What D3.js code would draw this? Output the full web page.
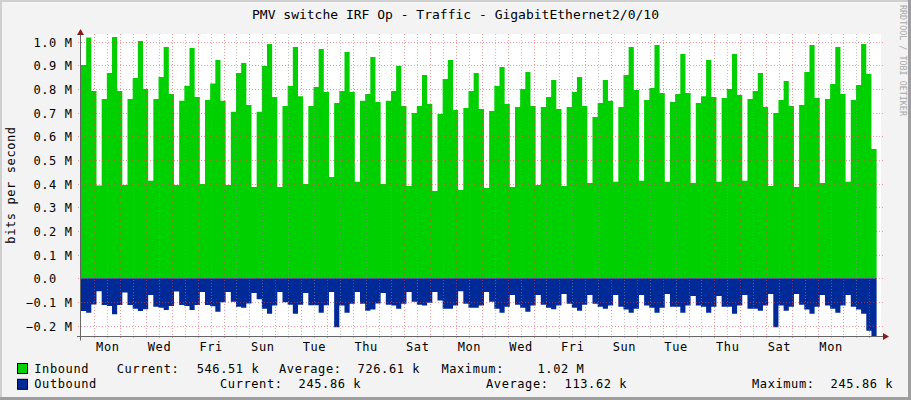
<!DOCTYPE html>
<html>
<head>
<meta charset="utf-8">
<script src="https://cdn.jsdelivr.net/npm/d3@7"></script>
<style>
body { margin: 0; background: #f3f3f3; }
svg text { font-family: "DejaVu Sans Mono", monospace; white-space: pre; }
</style>
</head>
<body>
<svg></svg>
<script>
// inbound / outbound traffic, Mbit/s, one sample every 4.8 h (5 per day)
var inbound = [
  0.902, 1.018, 0.792, 0.392, 0.758,  0.868, 1.020, 0.792, 0.395, 0.758,
  0.847, 1.003, 0.800, 0.412, 0.758,  0.851, 0.978, 0.779, 0.395, 0.750,
  0.813, 0.973, 0.766, 0.399, 0.754,  0.823, 0.923, 0.750, 0.395, 0.704,
  0.868, 0.910, 0.733, 0.386, 0.704,  0.897, 0.990, 0.766, 0.386, 0.728,
  0.813, 0.978, 0.770, 0.399, 0.728,  0.809, 0.969, 0.787, 0.428, 0.741,
  0.792, 0.957, 0.787, 0.408, 0.750,  0.779, 0.935, 0.745, 0.399, 0.750,
  0.792, 0.897, 0.728, 0.390, 0.699,  0.728, 0.859, 0.737, 0.369, 0.694,
  0.842, 0.923, 0.711, 0.373, 0.720,  0.792, 0.868, 0.716, 0.382, 0.707,
  0.813, 0.893, 0.737, 0.386, 0.724,  0.800, 0.872, 0.728, 0.395, 0.724,
  0.766, 0.838, 0.716, 0.390, 0.724,  0.787, 0.851, 0.728, 0.403, 0.682,
  0.741, 0.838, 0.750, 0.408, 0.724,  0.859, 0.978, 0.796, 0.412, 0.754,
  0.804, 0.986, 0.783, 0.408, 0.745,  0.779, 0.948, 0.783, 0.403, 0.741,
  0.770, 0.923, 0.766, 0.408, 0.762,  0.800, 0.948, 0.775, 0.412, 0.758,
  0.792, 0.868, 0.724, 0.390, 0.699,  0.754, 0.834, 0.728, 0.386, 0.733,
  0.872, 0.986, 0.762, 0.403, 0.758,  0.821, 0.978, 0.779, 0.408, 0.754,
  0.817, 0.990, 0.863, 0.547
];
var outbound = [
  0.138, 0.145, 0.110, 0.054, 0.113,  0.117, 0.152, 0.113, 0.060, 0.113,
  0.128, 0.138, 0.130, 0.070, 0.120,  0.124, 0.134, 0.117, 0.056, 0.113,
  0.117, 0.134, 0.113, 0.058, 0.113,  0.118, 0.141, 0.101, 0.058, 0.099,
  0.120, 0.124, 0.106, 0.062, 0.088,  0.128, 0.149, 0.115, 0.058, 0.101,
  0.111, 0.149, 0.111, 0.062, 0.114,  0.114, 0.145, 0.114, 0.058, 0.207,
  0.115, 0.145, 0.107, 0.058, 0.107,  0.137, 0.132, 0.106, 0.062, 0.111,
  0.115, 0.128, 0.107, 0.058, 0.099,  0.111, 0.115, 0.103, 0.058, 0.094,
  0.128, 0.128, 0.115, 0.054, 0.107,  0.124, 0.124, 0.115, 0.058, 0.099,
  0.128, 0.145, 0.120, 0.070, 0.111,  0.124, 0.141, 0.115, 0.070, 0.111,
  0.124, 0.130, 0.115, 0.066, 0.107,  0.124, 0.137, 0.111, 0.070, 0.107,
  0.120, 0.128, 0.115, 0.070, 0.120,  0.132, 0.145, 0.128, 0.070, 0.115,
  0.124, 0.145, 0.124, 0.066, 0.120,  0.120, 0.145, 0.115, 0.075, 0.115,
  0.120, 0.145, 0.120, 0.075, 0.120,  0.120, 0.149, 0.115, 0.070, 0.128,
  0.128, 0.137, 0.115, 0.066, 0.207,  0.115, 0.137, 0.120, 0.066, 0.111,
  0.132, 0.149, 0.120, 0.070, 0.115,  0.128, 0.145, 0.115, 0.070, 0.120,
  0.132, 0.149, 0.221, 0.246
];
var yTicks = [-0.2, -0.1, 0, 0.1, 0.2, 0.3, 0.4, 0.5, 0.6, 0.7, 0.8, 0.9, 1.0];

var title = "PMV switche IRF Op - Traffic - GigabitEthernet2/0/10";
var legendRows = [
  { name: "Inbound",  color: "#00CF00",
    parts: [["Current:", 116.7], ["546.51 k", 196.7], ["Average:", 279], ["726.61 k", 357.6], ["Maximum:", 441.4], ["1.02 M", 537.5]] },
  { name: "Outbound", color: "#002A97",
    parts: [["Current:", 220], ["245.86 k", 298.6], ["Average:", 486], ["113.62 k", 564.6], ["Maximum:", 752], ["245.86 k", 830.6]] }
];

var HOUR = 3600 * 1000, DAY = 24 * HOUR;
var tStart = Date.UTC(2023, 11, 30, 23, 34);
var tEnd = tStart + 30.97 * DAY;
var step = 4.8 * HOUR;

var width = 911, height = 400;
var plotL = 81, plotR = 881, plotT = 34, plotB = 336.5;

var svg = d3.select('svg')
    .attr('width', width)
    .attr('height', height);

var x = d3.scaleUtc().domain([tStart, tEnd]).range([plotL, plotR]);
var y = d3.scaleLinear().domain([-0.2, 1.0]).range([325.7, 41.7]);

// frame
svg.append('rect').attr('width', width).attr('height', height).attr('fill', '#f3f3f3');
svg.append('path').attr('d', 'M0,0H911V2H2V400H0Z').attr('fill', '#cfcfcf');
svg.append('path').attr('d', 'M911,0V400H0V397H908V0Z').attr('fill', '#9e9e9e');

svg.append('rect')
    .attr('x', plotL).attr('y', plotT)
    .attr('width', plotR - plotL).attr('height', plotB - plotT)
    .attr('fill', 'white');

var samplesIn = inbound.map(function(v, i) { return { t: tStart + i * step, v: v }; });
samplesIn.push({ t: tStart + inbound.length * step, v: inbound[inbound.length - 1] });
var samplesOut = outbound.map(function(v, i) { return { t: tStart + i * step, v: -v }; });
samplesOut.push({ t: tStart + outbound.length * step, v: -outbound[outbound.length - 1] });

var area = d3.area()
    .curve(d3.curveStepAfter)
    .x(function(d) { return x(d.t); })
    .y0(y(0))
    .y1(function(d) { return y(d.v); });

var plot = svg.append('g');
plot.append('clipPath').attr('id', 'clip')
    .append('rect').attr('x', plotL).attr('y', plotT).attr('width', plotR - plotL).attr('height', plotB - plotT);
plot.append('path').datum(samplesIn).attr('d', area).attr('fill', '#00CF00').attr('clip-path', 'url(#clip)');
plot.append('path').datum(samplesOut).attr('d', area).attr('fill', '#002A97').attr('clip-path', 'url(#clip)');

// grid, drawn over the areas like rrdtool does
var minorColor = 'rgba(143,143,143,0.55)', majorColor = 'rgba(230,70,70,0.55)';
var midnights = d3.utcDay.range(tStart, tEnd).filter(function(d) { return x(d) > plotL + 2; });
var noons = d3.utcDay.range(tStart - DAY, tEnd).map(function(d) { return new Date(+d + 12 * HOUR); })
    .filter(function(d) { return +d > tStart && +d < tEnd; });

var grid = svg.append('g').attr('stroke-dasharray', '1,2').attr('stroke-width', 1);
grid.selectAll('.vmin').data(midnights).enter().append('line')
    .attr('x1', function(d) { return Math.round(x(d)) + 0.5; })
    .attr('x2', function(d) { return Math.round(x(d)) + 0.5; })
    .attr('y1', plotT).attr('y2', plotB + 3)
    .attr('stroke', minorColor);
grid.selectAll('.vmaj').data(noons).enter().append('line')
    .attr('x1', function(d) { return Math.round(x(d)) + 0.5; })
    .attr('x2', function(d) { return Math.round(x(d)) + 0.5; })
    .attr('y1', plotT).attr('y2', plotB + 3)
    .attr('stroke', majorColor);
grid.selectAll('.hmaj').data(yTicks).enter().append('line')
    .attr('x1', plotL - 3).attr('x2', plotR + 3)
    .attr('y1', function(d) { return Math.round(y(d)) + 0.5; })
    .attr('y2', function(d) { return Math.round(y(d)) + 0.5; })
    .attr('stroke', majorColor);

// axes lines with arrows
svg.append('line').attr('x1', plotL - 4).attr('x2', plotR + 6)
    .attr('y1', plotB).attr('y2', plotB).attr('stroke', '#666').attr('stroke-width', 1);
svg.append('line').attr('x1', plotL - 0.5).attr('x2', plotL - 0.5)
    .attr('y1', plotB + 4).attr('y2', plotT - 3).attr('stroke', '#666').attr('stroke-width', 1);
svg.append('path').attr('d', 'M883,333 L889,336.5 L883,340 Z').attr('fill', '#8b1a1a');
svg.append('path').attr('d', 'M77,35 L80.5,29 L84,35 Z').attr('fill', '#8b1a1a');

// y labels
var yAxis = svg.append('g')
    .attr('transform', 'translate(' + (plotL - 8.4) + ',0)')
    .call(d3.axisLeft(y).tickValues(yTicks).tickSize(0).tickPadding(0)
        .tickFormat(function(d) { return d === 0 ? '0.0  ' : d3.format('.1f')(d) + ' M'; }));
yAxis.select('.domain').remove();
yAxis.selectAll('text')
    .attr('dy', '4.3')
    .attr('font-family', '"DejaVu Sans Mono", monospace')
    .attr('font-size', '12px')
    .attr('letter-spacing', '0.6px')
    .attr('fill', '#000');

// x labels: every second day
var labelDays = d3.utcDay.range(new Date(Date.UTC(2024, 0, 1)), tEnd, 2);
var xAxis = svg.append('g')
    .attr('transform', 'translate(0,' + plotB + ')')
    .call(d3.axisBottom(x).tickValues(labelDays).tickSize(0).tickPadding(6.2)
        .tickFormat(d3.utcFormat('%a')));
xAxis.select('.domain').remove();
xAxis.selectAll('text')
    .attr('font-family', '"DejaVu Sans Mono", monospace')
    .attr('font-size', '12px')
    .attr('letter-spacing', '0.6px')
    .attr('fill', '#000');

// title and y-axis title
svg.append('text')
    .attr('x', width / 2).attr('y', 19.3)
    .attr('text-anchor', 'middle')
    .attr('font-size', '13px')
    .attr('fill', '#000')
    .text(title);

svg.append('text')
    .attr('transform', 'translate(15,185) rotate(-90)')
    .attr('text-anchor', 'middle')
    .attr('font-size', '12px')
    .attr('letter-spacing', '0.6px')
    .attr('fill', '#000')
    .text('bits per second');

svg.append('text')
    .attr('transform', 'translate(899.5,5) rotate(90)')
    .attr('font-size', '8.4px')
    .attr('fill', '#a8a8a8')
    .text('RRDTOOL / TOBI OETIKER');

// legend
var legend = svg.selectAll('.legend').data(legendRows).enter().append('g')
    .attr('transform', function(d, i) { return 'translate(0,' + (i * 15.8) + ')'; });
legend.append('rect')
    .attr('x', 17.5).attr('y', 363.5).attr('width', 10).attr('height', 10)
    .attr('fill', function(d) { return d.color; })
    .attr('stroke', '#000').attr('stroke-width', 1);
legend.append('text')
    .attr('x', 34.3).attr('y', 372.6)
    .attr('font-size', '12px').attr('letter-spacing', '0.6px')
    .text(function(d) { return d.name; });
legend.selectAll('.part').data(function(d) { return d.parts; }).enter().append('text')
    .attr('x', function(p) { return p[1]; }).attr('y', 372.6)
    .attr('font-size', '12px').attr('letter-spacing', '0.6px')
    .text(function(p) { return p[0]; });
</script>
</body>
</html>
